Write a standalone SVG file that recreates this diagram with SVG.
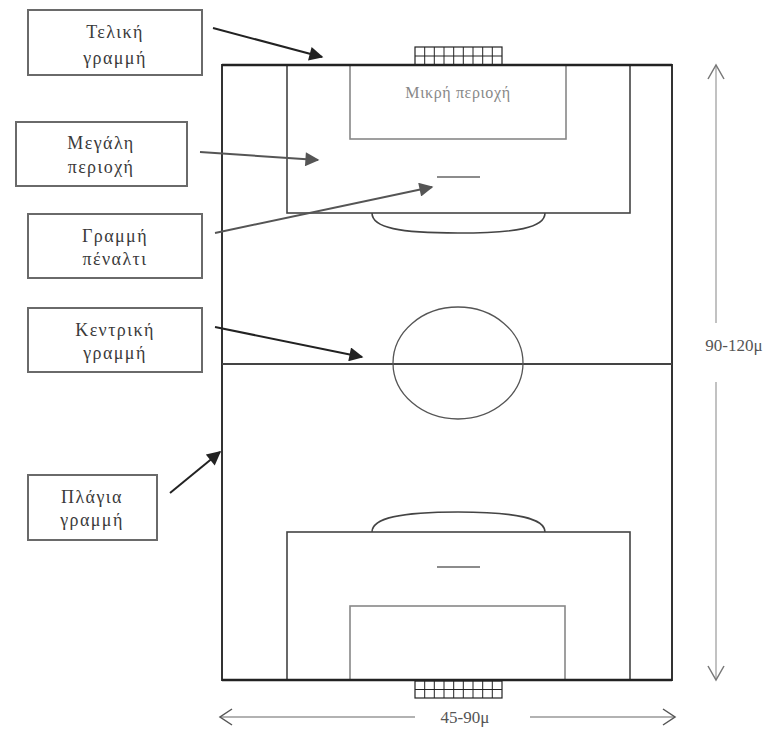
<svg xmlns="http://www.w3.org/2000/svg" width="779" height="736" viewBox="0 0 779 736">
<defs>
<style>
.box{fill:#fff;stroke:#6a6a6a;stroke-width:2}
.lbl{font-family:"Liberation Serif","DejaVu Serif",serif;font-size:18px;fill:#3a3a3a;text-anchor:middle;letter-spacing:1.4px}
.dim{font-family:"Liberation Serif","DejaVu Serif",serif;font-size:17px;fill:#555;text-anchor:middle}
.outer{fill:none;stroke:#333;stroke-width:2}
.pa{fill:none;stroke:#444;stroke-width:1.6}
.ga{fill:none;stroke:#888;stroke-width:1.6}
.dl{fill:none;stroke:#999;stroke-width:1.2}
.chev{fill:none;stroke:#777;stroke-width:1.5}
.arr{stroke:#222;stroke-width:2;fill:none}
.arrg{stroke:#555;stroke-width:2;fill:none}
.net{fill:#fff;stroke:#222;stroke-width:1.2}
</style>
<marker id="ah" viewBox="0 0 10 10" refX="9" refY="5" markerWidth="9" markerHeight="7" markerUnits="strokeWidth" orient="auto"><path d="M0,0 L10,5 L0,10 z" fill="#222"/></marker>
<marker id="ahg" viewBox="0 0 10 10" refX="9" refY="5" markerWidth="9" markerHeight="7" markerUnits="strokeWidth" orient="auto"><path d="M0,0 L10,5 L0,10 z" fill="#555"/></marker>
</defs>
<rect width="779" height="736" fill="#fff"/>

<g id="field">
<rect class="outer" x="222" y="65" width="450" height="615"/>
<line x1="222" y1="364" x2="672" y2="364" stroke="#444" stroke-width="2"/>
<ellipse cx="458" cy="363" rx="65" ry="56" fill="none" stroke="#555" stroke-width="1.3"/>
<rect class="pa" x="287" y="65" width="343" height="148"/>
<rect class="ga" x="350" y="65" width="216" height="74"/>
<line x1="437" y1="177" x2="480" y2="177" stroke="#666" stroke-width="1.3"/>
<path class="pa" d="M372,213 C372,228 400,233 458,233 C516,233 545,228 545,213"/>
<rect class="pa" x="287" y="532" width="343" height="148"/>
<rect class="ga" x="350" y="606" width="215" height="74"/>
<line x1="437" y1="567" x2="480" y2="567" stroke="#666" stroke-width="1.3"/>
<path class="pa" d="M372,532 C372,518 400,512 458,512 C516,512 545,518 545,532"/>
<text class="lbl" x="458" y="98" style="fill:#888;letter-spacing:0.6px;font-size:16px">Μικρή περιοχή</text>
</g>

<g id="goal-top">
<rect class="net" x="415" y="47" width="87" height="18"/>
<path d="M415,56 H502 M424.7,47 V65 M434.3,47 V65 M444,47 V65 M453.7,47 V65 M463.3,47 V65 M473,47 V65 M482.7,47 V65 M492.3,47 V65" stroke="#222" stroke-width="1"/>
</g>
<g id="goal-bottom">
<rect class="net" x="415" y="681" width="87" height="17"/>
<path d="M415,689.5 H502 M424.7,681 V698 M434.3,681 V698 M444,681 V698 M453.7,681 V698 M463.3,681 V698 M473,681 V698 M482.7,681 V698 M492.3,681 V698" stroke="#222" stroke-width="1"/>
</g>
<line x1="222" y1="65" x2="672" y2="65" stroke="#222" stroke-width="2.4"/>
<line x1="222" y1="680" x2="672" y2="680" stroke="#222" stroke-width="2.4"/>

<g id="dim-width">
<line class="dl" x1="220" y1="717" x2="415" y2="717" style="stroke:#666"/>
<line class="dl" x1="530" y1="717" x2="675" y2="717" style="stroke:#666"/>
<path class="chev" d="M232,709 L220,717 L232,725" style="stroke:#555"/>
<path class="chev" d="M663,709 L675,717 L663,725" style="stroke:#555"/>
<text class="dim" x="465" y="723">45-90μ</text>
</g>
<g id="dim-length">
<line class="dl" x1="716" y1="65" x2="716" y2="323"/>
<line class="dl" x1="716" y1="382" x2="716" y2="680"/>
<path class="chev" d="M708,79 L716,65 L724,79"/>
<path class="chev" d="M708,666 L716,680 L724,666"/>
<text class="dim" x="734" y="351">90-120μ</text>
</g>

<g id="n-teliki">
<rect class="box" x="28" y="10" width="174" height="65"/>
<text class="lbl" x="115" y="38">Τελική</text>
<text class="lbl" x="115" y="64">γραμμή</text>
</g>
<g id="n-megali">
<rect class="box" x="16" y="122" width="171" height="64"/>
<text class="lbl" x="101" y="149">Μεγάλη</text>
<text class="lbl" x="101" y="173">περιοχή</text>
</g>
<g id="n-penalty">
<rect class="box" x="28" y="214" width="174" height="64"/>
<text class="lbl" x="115" y="242">Γραμμή</text>
<text class="lbl" x="115" y="265">πέναλτι</text>
</g>
<g id="n-kentriki">
<rect class="box" x="28" y="308" width="174" height="64"/>
<text class="lbl" x="115" y="336">Κεντρική</text>
<text class="lbl" x="115" y="359">γραμμή</text>
</g>
<g id="n-plagia">
<rect class="box" x="28" y="475" width="129" height="65"/>
<text class="lbl" x="92" y="503">Πλάγια</text>
<text class="lbl" x="92" y="526">γραμμή</text>
</g>

<g id="connectors">
<line class="arr" x1="213" y1="28" x2="322" y2="57" marker-end="url(#ah)"/>
<line class="arrg" x1="200" y1="152" x2="318" y2="160" marker-end="url(#ahg)"/>
<line class="arrg" x1="215" y1="233" x2="432" y2="187" marker-end="url(#ahg)"/>
<line class="arr" x1="215" y1="327" x2="362" y2="357" marker-end="url(#ah)"/>
<line class="arr" x1="170" y1="493" x2="220" y2="452" marker-end="url(#ah)"/>
</g>
</svg>
